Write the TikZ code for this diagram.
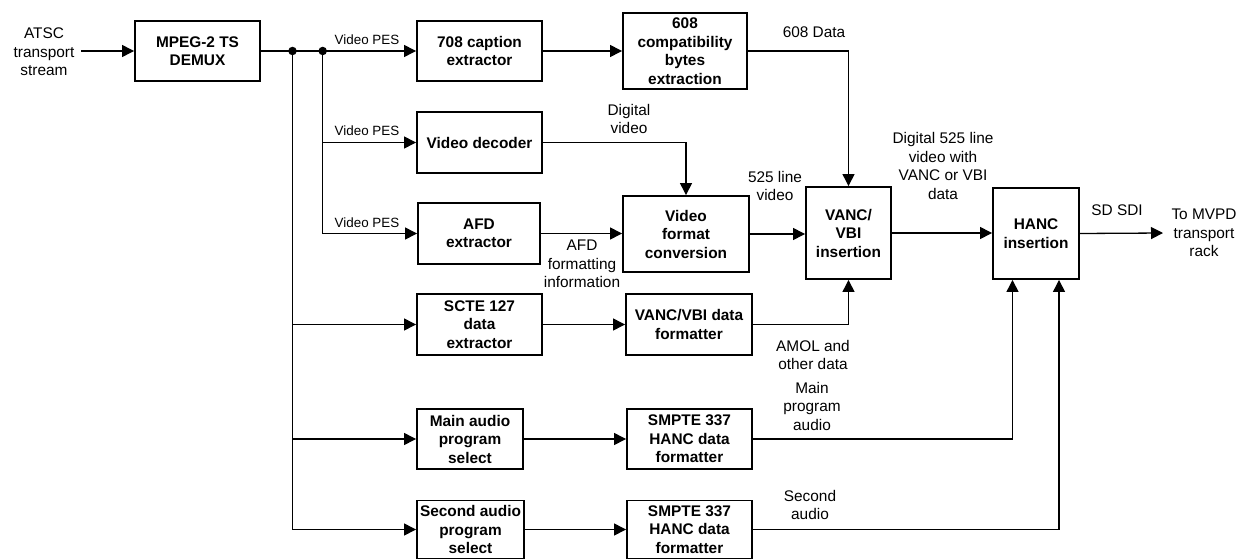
\documentclass[tikz,border=0pt]{standalone}
\usepackage{fontspec}
\setmainfont{Liberation Sans}
\usetikzlibrary{arrows.meta}
\begin{document}
\begin{tikzpicture}[x=1pt,y=-1pt,
  box/.style={draw, line width=1.9pt, inner sep=0pt, align=center, font=\fontsize{15.4}{18.5}\selectfont\bfseries},
  lbl/.style={inner sep=0pt, align=center, font=\fontsize{15.4}{18.5}\selectfont},
  pes/.style={inner sep=0pt, font=\fontsize{13.4}{16}\selectfont},
  conn/.style={line width=1.3pt},
  arr/.style={conn, -{Triangle[length=12pt,width=12pt]}},
  dot/.style={circle, fill, inner sep=0pt, minimum size=8.5pt}
]
\useasboundingbox (0,0) rectangle (1238,559);

% boxes
\node[box, minimum width=125pt, minimum height=60pt] (demux) at (197.5,51) {MPEG-2 TS\\DEMUX};
\node[box, minimum width=125pt, minimum height=60pt] (cap) at (479.5,51) {708 caption\\extractor};
\node[box, minimum width=124pt, minimum height=76pt] (c608) at (685,51) {608\\compatibility\\bytes\\extraction};
\node[box, minimum width=125pt, minimum height=61pt] (vdec) at (479.5,142.5) {Video decoder};
\node[box, minimum width=122pt, minimum height=61pt] (afd) at (479,233.5) {AFD\\extractor};
\node[box, minimum width=126pt, minimum height=76pt] (vfc) at (686,234) {Video\\format\\conversion};
\node[box, minimum width=85pt, minimum height=92pt] (vanc) at (848.5,233) {VANC/\\VBI\\insertion};
\node[box, minimum width=86pt, minimum height=91pt] (hanc) at (1036,233.5) {HANC\\insertion};
\node[box, minimum width=125pt, minimum height=61pt] (scte) at (479.5,324.5) {SCTE 127\\data\\extractor};
\node[box, minimum width=126pt, minimum height=61pt] (vfmt) at (689,324.5) {VANC/VBI data\\formatter};
\node[box, minimum width=106pt, minimum height=60pt] (mainsel) at (470,439) {Main audio\\program\\select};
\node[box, minimum width=125pt, minimum height=60pt] (smpteA) at (689.5,439) {SMPTE 337\\HANC data\\formatter};
\node[box, minimum width=107pt, minimum height=58pt] (secsel) at (470.5,529.5) {Second audio\\program\\select};
\node[box, minimum width=125pt, minimum height=58pt] (smpteB) at (689.5,529.5) {SMPTE 337\\HANC data\\formatter};

% labels
\node[lbl] (atsc) at (44,52) {ATSC\\transport\\stream};
\node[pes] (pesA) at (367,40) {Video PES};
\node[pes] (pesB) at (367,131) {Video PES};
\node[pes] (pesC) at (367,223) {Video PES};
\node[lbl] (d608) at (814,32) {608 Data};
\node[lbl] (dvid) at (629,119) {Digital\\video};
\node[lbl] (l525) at (775,186) {525 line\\video};
\node[lbl] (afdinfo) at (582,264) {AFD\\formatting\\information};
\node[lbl] (d525) at (943,166) {Digital 525 line\\video with\\VANC or VBI\\data};
\node[lbl] (sdsdi) at (1117,210) {SD SDI};
\node[lbl] (mvpd) at (1204,233) {To MVPD\\transport\\rack};
\node[lbl] (amol) at (813,355) {AMOL and\\other data};
\node[lbl] (mpa) at (812,406) {Main\\program\\audio};
\node[lbl] (sa) at (810,505) {Second\\audio};

% junctions and free ends
\node[dot] (j1) at (292.5,51) {};
\node[dot] (j2) at (322.7,51) {};
\coordinate (inpt) at (81,51);
\coordinate (outpt) at (1163,233);

% connectors
\draw[arr] (inpt) -- (demux.west);
\draw[conn] (demux.east) -- (j1.center) -- (j2.center);
\draw[arr] (j2.center) -- (cap.west);
\draw[arr] (j2.center) |- (vdec.west);
\draw[arr] (j2.center) |- (afd.west);
\draw[arr] (j1.center) |- (scte.west);
\draw[arr] (j1.center) |- (mainsel.west);
\draw[arr] (j1.center) |- (secsel.west);
\draw[arr] (cap.east) -- (c608.west);
\draw[arr] (c608.east) -| (vanc.north);
\draw[arr] (vdec.east) -| (vfc.north);
\draw[arr] (afd.east) -- (afd.east -| vfc.west);
\draw[arr] (vfc.east) -- (vfc.east -| vanc.west);
\draw[arr] (scte.east) -- (scte.east -| vfmt.west);
\draw[arr] (vfmt.east) -| (vanc.south);
\draw[arr] (vanc.east) -- (vanc.east -| hanc.west);
\draw[arr] (hanc.east) -- (outpt);
\draw[arr] (mainsel.east) -- (mainsel.east -| smpteA.west);
\draw[arr] (smpteA.east) -| ([xshift=-23.5pt]hanc.south);
\draw[arr] (secsel.east) -- (secsel.east -| smpteB.west);
\draw[arr] (smpteB.east) -| ([xshift=23pt]hanc.south);
\end{tikzpicture}
\end{document}
